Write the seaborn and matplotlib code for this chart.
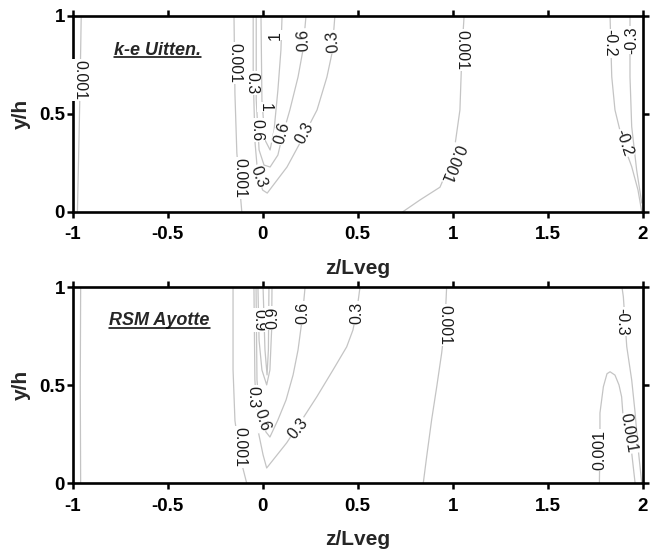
import matplotlib
matplotlib.use("Agg")
import matplotlib.pyplot as plt
from matplotlib.lines import Line2D
import pandas as pd
import seaborn as sns

# axis ticks
z_ticks = [-1, -0.5, 0, 0.5, 1, 1.5, 2]
z_ticklabels = ["-1", "-0.5", "0", "0.5", "1", "1.5", "2"]
y_ticks = [0, 0.5, 1]
y_ticklabels = ["0", "0.5", "1"]

# ---- k-e Uitten. : iso-lines, (z/Lveg, y/h)
ke_0001_a = [(-0.955, 1.0), (-0.960, 0.70), (-0.966, 0.40), (-0.975, 0.0)]
ke_0001_b = [(-0.151, 1.0), (-0.146, 0.60), (-0.136, 0.30), (-0.110, 0.0)]
ke_0001_c = [(1.060, 1.0), (1.049, 0.825), (1.038, 0.519), (1.012, 0.340),
             (0.975, 0.220), (0.933, 0.125), (0.828, 0.060), (0.738, 0.0)]
ke_03 = [(-0.050, 1.0), (-0.050, 0.69), (-0.040, 0.35), (-0.025, 0.18),
         (0.000, 0.11), (0.024, 0.095), (0.128, 0.228), (0.196, 0.350),
         (0.286, 0.519), (0.338, 0.687), (0.365, 0.810), (0.380, 1.0)]
ke_06 = [(-0.034, 1.0), (-0.034, 0.57), (-0.019, 0.315), (0.007, 0.238),
         (0.039, 0.228), (0.080, 0.289), (0.102, 0.380), (0.143, 0.519),
         (0.186, 0.687), (0.212, 0.825), (0.228, 1.0)]
ke_1 = [(-0.009, 1.0), (-0.004, 0.57), (0.012, 0.366), (0.039, 0.315),
        (0.060, 0.417), (0.080, 0.620), (0.096, 0.825), (0.102, 1.0)]
ke_m02 = [(1.828, 1.0), (1.837, 0.689), (1.854, 0.519), (1.896, 0.351),
          (1.942, 0.230), (1.975, 0.111), (1.995, 0.0)]
ke_m03 = [(1.933, 1.0), (1.933, 0.689), (1.942, 0.434), (1.968, 0.213),
          (1.995, 0.044)]
ke_lines = [ke_0001_a, ke_0001_b, ke_0001_c, ke_03, ke_06, ke_1, ke_m02, ke_m03]

# label text, z, y, angle
ke_labels = [("0.001", -0.961, 0.672, -90), ("0.001", -0.145, 0.759, -90),
             ("0.001", -0.118, 0.172, -90), ("0.3", -0.056, 0.656, -90),
             ("1", 0.012, 0.534, -90), ("0.6", -0.032, 0.417, -90),
             ("0.3", -0.023, 0.179, -70), ("1", 0.065, 0.901, 90),
             ("0.6", 0.214, 0.876, 92), ("0.3", 0.372, 0.867, 95),
             ("0.6", 0.100, 0.400, 74), ("0.3", 0.223, 0.400, 62),
             ("0.001", 1.047, 0.825, -90), ("0.001", 0.995, 0.248, -112),
             ("-0.2", 1.828, 0.860, -90), ("-0.2", 1.898, 0.350, -72),
             ("-0.3", 1.942, 0.876, 90)]

# ---- RSM Ayotte
rsm_0001_a = [(-0.958, 1.0), (-0.960, 0.5), (-0.958, 0.0)]
rsm_0001_b = [(-0.156, 1.0), (-0.156, 0.58), (-0.146, 0.32), (-0.119, 0.134),
              (-0.084, 0.0)]
rsm_0001_c = [(0.968, 1.0), (0.959, 0.808), (0.942, 0.665), (0.916, 0.493),
              (0.889, 0.323), (0.863, 0.136), (0.845, 0.0)]
rsm_0001_d = [(1.772, 0.0), (1.775, 0.221), (1.775, 0.359), (1.793, 0.493),
              (1.812, 0.559), (1.828, 0.569), (1.854, 0.552), (1.875, 0.502),
              (1.889, 0.441), (1.898, 0.323), (1.923, 0.221), (1.942, 0.155),
              (1.960, 0.0)]
rsm_03 = [(-0.046, 1.0), (-0.041, 0.527), (-0.025, 0.272), (0.002, 0.145),
          (0.021, 0.078), (0.126, 0.206), (0.196, 0.308), (0.284, 0.440),
          (0.370, 0.578), (0.442, 0.696), (0.475, 0.782), (0.496, 0.884),
          (0.512, 1.0)]
rsm_06 = [(-0.035, 1.0), (-0.030, 0.527), (-0.014, 0.349), (0.017, 0.262),
          (0.038, 0.236), (0.080, 0.323), (0.123, 0.425), (0.160, 0.553),
          (0.186, 0.680), (0.207, 0.833), (0.223, 1.0)]
rsm_09 = [(-0.025, 1.0), (-0.019, 0.730), (-0.004, 0.578), (0.021, 0.502),
          (0.038, 0.578), (0.047, 0.782), (0.049, 1.0)]
rsm_12 = [(0.002, 1.0), (0.012, 0.680), (0.023, 0.553), (0.030, 0.680),
          (0.033, 1.0)]
rsm_m03 = [(1.891, 1.0), (1.898, 0.952), (1.916, 0.697), (1.942, 0.527),
           (1.960, 0.359), (1.975, 0.185), (1.995, 0.0)]
rsm_lines = [rsm_0001_a, rsm_0001_b, rsm_0001_c, rsm_0001_d, rsm_03, rsm_06,
             rsm_09, rsm_12, rsm_m03]

rsm_labels = [("0.9", -0.022, 0.834, -90), ("0.9", 0.056, 0.844, 90),
              ("0.3", -0.051, 0.440, -90), ("0.6", -0.005, 0.323, -72),
              ("0.001", -0.119, 0.185, -90), ("0.6", 0.212, 0.869, 90),
              ("0.3", 0.495, 0.869, 90), ("0.3", 0.187, 0.281, 50),
              ("0.001", 0.960, 0.808, -90), ("-0.3", 1.889, 0.824, -90),
              ("0.001", 1.775, 0.170, 90), ("0.001", 1.924, 0.255, -80)]

sns.set_style("ticks")
plt.rcParams["font.family"] = ["Liberation Sans", "DejaVu Sans"]
plt.rcParams["axes.unicode_minus"] = False

fig = plt.figure(figsize=(6.5, 5.49), dpi=100)
ax_top = fig.add_axes([0.1118, 0.6144, 0.877, 0.357])
ax_bot = fig.add_axes([0.1118, 0.1197, 0.877, 0.357])


def draw_panel(ax, lines, labels):
    for pts in lines:
        df = pd.DataFrame(pts, columns=["z", "y"])
        sns.lineplot(data=df, x="z", y="y", ax=ax, sort=False, estimator=None,
                     color="#c4c4c4", lw=0.9)
    for txt, z, y, rot in labels:
        ax.text(z, y, txt, fontsize=11.5, color="#1a1a1a", rotation=rot,
                rotation_mode="anchor", ha="center", va="center", zorder=5,
                bbox=dict(boxstyle="square,pad=0.04", fc="white", ec="none"))
    ax.set_xlim(-1, 2)
    ax.set_ylim(0, 1)
    ax.set_xticks(z_ticks)
    ax.set_xticklabels(z_ticklabels)
    ax.set_yticks(y_ticks)
    ax.set_yticklabels(y_ticklabels)
    ax.tick_params(direction="out", length=4.5, width=1.8, top=True, right=True,
                   labelsize=13.5, colors="black")
    ax.tick_params(axis="x", pad=6)
    ax.tick_params(axis="y", pad=1)
    for lab in ax.get_xticklabels() + ax.get_yticklabels():
        lab.set_fontweight("bold")
    for sp in ax.spines.values():
        sp.set_visible(True)
        sp.set_linewidth(1.9)
        sp.set_color("black")
    ax.set_xlabel("z/Lveg", fontsize=15, fontweight="bold", labelpad=11)
    ax.set_ylabel("y/h", fontsize=15, fontweight="bold", labelpad=6)


def underlined(ax, z, y, s):
    t = ax.text(z, y, s, fontsize=13, fontweight="bold", fontstyle="italic",
                ha="center", va="baseline", zorder=6)
    fig.canvas.draw()
    bb = t.get_window_extent()
    base = ax.transData.transform((z, y))[1] - 2.5
    W, H = fig.bbox.width, fig.bbox.height
    fig.add_artist(Line2D([bb.x0 / W, bb.x1 / W], [base / H, base / H],
                          color="black", lw=1.1, transform=fig.transFigure))


draw_panel(ax_top, ke_lines, ke_labels)
draw_panel(ax_bot, rsm_lines, rsm_labels)
underlined(ax_top, -0.553, 0.80, "k-e Uitten.")
underlined(ax_bot, -0.543, 0.807, "RSM Ayotte")

fig.savefig("out.png", dpi=100, facecolor="white")
